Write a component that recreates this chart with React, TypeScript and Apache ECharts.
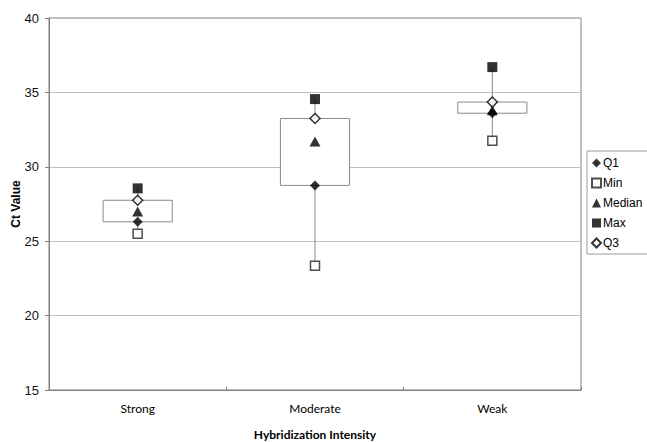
import React, { useEffect, useRef } from "react";
import * as echarts from "echarts";

const categories = ["Strong", "Moderate", "Weak"];
const minVals = [25.5, 23.35, 31.75];
const q1Vals = [26.3, 28.75, 33.6];
const medianVals = [27.0, 31.7, 33.8];
const maxVals = [28.55, 34.55, 36.7];
const q3Vals = [27.75, 33.25, 34.35];
const yTicks = { min: 15, max: 40, interval: 5 };

const ARIAL = "Arial";
const CALIBRI = "Lato";

export default function App() {
  const ref = useRef<HTMLDivElement>(null);
  useEffect(() => {
    if (!ref.current) return;
    const chart = echarts.init(ref.current, null, { renderer: "svg" });
    const boxData = categories.map((_, i) => [i, minVals[i], q1Vals[i], q3Vals[i], maxVals[i]]);
    const gray = "#8a8a8a";
    chart.setOption({
      animation: false,
      backgroundColor: "#fff",
      grid: {
        left: 49, right: 66, top: 18, bottom: 52,
        show: true, borderColor: "#808080", borderWidth: 1,
        outerBoundsMode: "none", containLabel: false,
      },
      legend: {
        orient: "vertical",
        left: 587,
        top: 151,
        padding: [5, 14, 4, 4],
        itemGap: 6,
        itemWidth: 9,
        itemHeight: 9,
        borderColor: "#9a9a9a",
        borderWidth: 1,
        backgroundColor: "#fff",
        textStyle: { fontFamily: ARIAL, fontSize: 12, lineHeight: 14, color: "#000", padding: [0, 0, 0, -3] },
        data: ["Q1", "Min", "Median", "Max", "Q3"],
      },
      xAxis: {
        type: "category",
        data: categories,
        name: "Hybridization Intensity",
        nameLocation: "middle",
        nameGap: 38,
        nameMoveOverlap: false,
        nameTextStyle: { fontFamily: CALIBRI, fontWeight: "bold", fontSize: 12, color: "#000" },
        axisLine: { lineStyle: { color: "#808080" } },
        axisTick: { show: true, inside: true, length: 3, lineStyle: { color: "#808080" } },
        axisLabel: { fontFamily: CALIBRI, fontSize: 12, color: "#000", margin: 12 },
        splitLine: { show: false },
      },
      yAxis: {
        type: "value",
        min: yTicks.min,
        max: yTicks.max,
        interval: yTicks.interval,
        name: "Ct Value",
        nameLocation: "middle",
        nameGap: 27,
        nameMoveOverlap: false,
        nameTextStyle: { fontFamily: ARIAL, fontWeight: "bold", fontSize: 12, color: "#000" },
        axisLine: { show: true, lineStyle: { color: "#808080" } },
        axisTick: { show: true, length: 4, lineStyle: { color: "#808080" } },
        axisLabel: { fontFamily: ARIAL, fontSize: 13, color: "#111", margin: 10 },
        splitLine: { show: true, lineStyle: { color: "#bfbfbf", width: 1.2 } },
      },
      series: [
        {
          type: "custom",
          name: "box",
          data: boxData,
          encode: { x: 0, y: [1, 2, 3, 4] },
          z: 1,
          renderItem: (params: any, api: any) => {
            const x = api.value(0);
            const pMin = api.coord([x, api.value(1)]);
            const pQ1 = api.coord([x, api.value(2)]);
            const pQ3 = api.coord([x, api.value(3)]);
            const pMax = api.coord([x, api.value(4)]);
            const w = api.size([1, 0])[0] * 0.39;
            return {
              type: "group",
              children: [
                { type: "line", shape: { x1: pMin[0], y1: pMin[1], x2: pQ1[0], y2: pQ1[1] }, style: { stroke: gray, lineWidth: 1 } },
                { type: "line", shape: { x1: pQ3[0], y1: pQ3[1], x2: pMax[0], y2: pMax[1] }, style: { stroke: gray, lineWidth: 1 } },
                { type: "rect", shape: { x: pQ3[0] - w / 2, y: pQ3[1], width: w, height: pQ1[1] - pQ3[1] }, style: { fill: "#fff", stroke: gray, lineWidth: 1 } },
              ],
            };
          },
        },
        { type: "scatter", name: "Median", data: medianVals, symbol: "triangle", symbolSize: [11, 10], itemStyle: { color: "#000" }, z: 3 },
        { type: "scatter", name: "Min", data: minVals, symbol: "rect", symbolSize: 9, itemStyle: { color: "#fff", borderColor: "#222", borderWidth: 1.5 }, z: 3 },
        { type: "scatter", name: "Max", data: maxVals, symbol: "rect", symbolSize: 10, itemStyle: { color: "#000" }, z: 3 },
        { type: "scatter", name: "Q1", data: q1Vals, symbol: "diamond", symbolSize: 10, itemStyle: { color: "#000" }, z: 4 },
        { type: "scatter", name: "Q3", data: q3Vals, symbol: "diamond", symbolSize: 10, itemStyle: { color: "#fff", borderColor: "#000", borderWidth: 1.5 }, z: 4 },
      ],
    });
    return () => chart.dispose();
  }, []);
  return <div ref={ref} style={{ width: 647, height: 442, position: "absolute", left: 0, top: 0 }} />;
}
